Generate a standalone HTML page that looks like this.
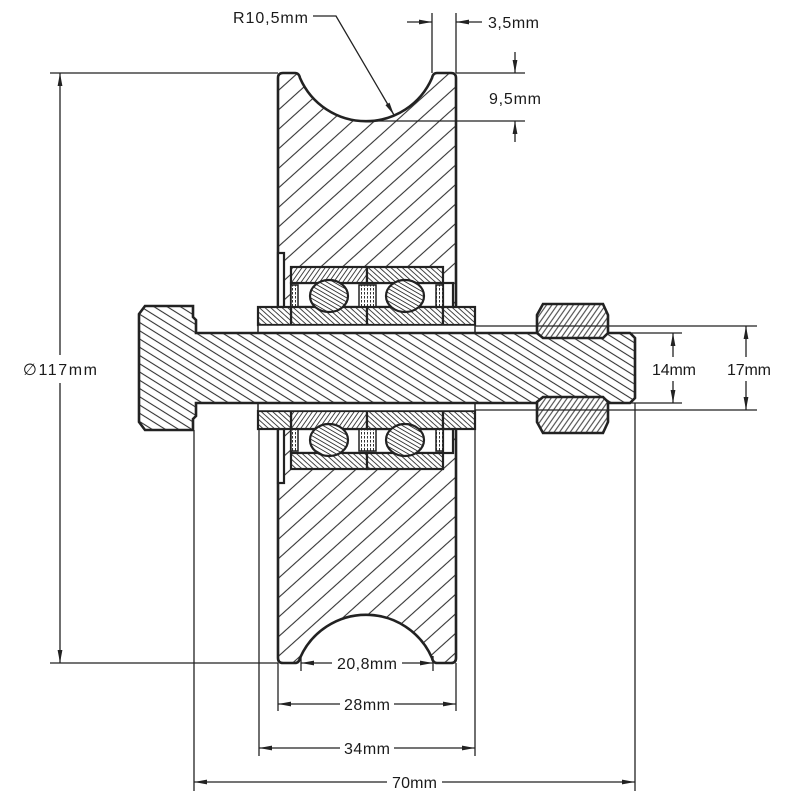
<!DOCTYPE html>
<html><head><meta charset="utf-8">
<style>
html,body{margin:0;padding:0;background:#fff}
svg{display:block}
text{font-family:"Liberation Sans","DejaVu Sans",sans-serif;font-size:16px;fill:#1a1a1a}
</style></head>
<body>
<svg width="800" height="800" viewBox="0 0 800 800" xmlns="http://www.w3.org/2000/svg">
<defs>
<pattern id="pb" width="14.5" height="14.5" patternUnits="userSpaceOnUse" patternTransform="rotate(-42)"><rect width="14.5" height="14.5" fill="#fff"/><line x1="0" y1="7" x2="14.5" y2="7" stroke="#333" stroke-width="1.1"/></pattern>
<pattern id="ps" width="7" height="7" patternUnits="userSpaceOnUse" patternTransform="rotate(32)"><rect width="7" height="7" fill="#fff"/><line x1="0" y1="3.5" x2="7" y2="3.5" stroke="#333" stroke-width="1.1"/></pattern>
<pattern id="p1" width="3.8" height="3.8" patternUnits="userSpaceOnUse" patternTransform="rotate(-55)"><rect width="3.8" height="3.8" fill="#fff"/><line x1="0" y1="1.9" x2="3.8" y2="1.9" stroke="#333" stroke-width="0.9"/></pattern>
<pattern id="p2" width="3.8" height="3.8" patternUnits="userSpaceOnUse" patternTransform="rotate(42)"><rect width="3.8" height="3.8" fill="#fff"/><line x1="0" y1="1.9" x2="3.8" y2="1.9" stroke="#333" stroke-width="0.9"/></pattern>
<pattern id="pball" width="3.6" height="3.6" patternUnits="userSpaceOnUse" patternTransform="rotate(30)"><rect width="3.6" height="3.6" fill="#fff"/><line x1="0" y1="1.8" x2="3.6" y2="1.8" stroke="#333" stroke-width="0.9"/></pattern>
<pattern id="pn" width="4.4" height="4.4" patternUnits="userSpaceOnUse" patternTransform="rotate(-55)"><rect width="4.4" height="4.4" fill="#fff"/><line x1="0" y1="2.2" x2="4.4" y2="2.2" stroke="#333" stroke-width="1"/></pattern>
<pattern id="pv" width="3" height="4" patternUnits="userSpaceOnUse"><rect width="3" height="4" fill="#fff"/><line x1="1.5" y1="0" x2="1.5" y2="2.5" stroke="#333" stroke-width="1"/></pattern>
<marker id="ar" viewBox="0 0 13 6" refX="13" refY="3" markerWidth="13" markerHeight="6" orient="auto-start-reverse" markerUnits="userSpaceOnUse"><path d="M0,0.6 L13,3 L0,5.4 z" fill="#222"/></marker>
</defs>

<!-- wheel body -->
<path d="M278,78 Q278,73 283,73 L295,73 Q299,73 300,78 A72,72 0 0,0 432,78 Q433,73 437,73 L451,73 Q456,73 456,78 L456,658 Q456,663 451,663 L437,663 Q433,663 432,658 A72,72 0 0,0 300,658 Q299,663 295,663 L283,663 Q278,663 278,658 Z" fill="url(#pb)" stroke="#222" stroke-width="2.6"/>

<g stroke="#222" stroke-width="2.2">
<!-- upper bearing assembly -->
<rect x="278" y="253" width="6" height="54" fill="#fff"/>
<rect x="291" y="283" width="152" height="24" fill="#fff"/>
<rect x="443" y="283" width="10" height="24" fill="#fff"/>
<rect x="291" y="267" width="76" height="16" fill="url(#p1)"/>
<rect x="367" y="267" width="76" height="16" fill="url(#p2)"/>
<rect x="291" y="285" width="7" height="22" fill="url(#pv)" stroke-width="1.5"/>
<rect x="359" y="285" width="17" height="22" fill="url(#pv)" stroke-width="1.5"/>
<rect x="436" y="285" width="7" height="22" fill="url(#pv)" stroke-width="1.5"/>
<rect x="291" y="307" width="76" height="18" fill="url(#p2)"/>
<rect x="367" y="307" width="76" height="18" fill="url(#p2)"/>
<ellipse cx="329" cy="296" rx="19" ry="16" fill="url(#pball)"/>
<ellipse cx="405" cy="296" rx="19" ry="16" fill="url(#pball)"/>
<rect x="258" y="307" width="33" height="18" fill="url(#p2)"/>
<rect x="443" y="307" width="32" height="18" fill="url(#p2)"/>
<rect x="258" y="325" width="217" height="8" fill="#fff" stroke-width="1.5"/>

<!-- lower bearing assembly -->
<rect x="278" y="429" width="6" height="54" fill="#fff"/>
<rect x="291" y="429" width="152" height="24" fill="#fff"/>
<rect x="443" y="429" width="10" height="24" fill="#fff"/>
<rect x="291" y="453" width="76" height="16" fill="url(#p2)"/>
<rect x="367" y="453" width="76" height="16" fill="url(#p2)"/>
<rect x="291" y="429" width="7" height="22" fill="url(#pv)" stroke-width="1.5"/>
<rect x="359" y="429" width="17" height="22" fill="url(#pv)" stroke-width="1.5"/>
<rect x="436" y="429" width="7" height="22" fill="url(#pv)" stroke-width="1.5"/>
<rect x="291" y="411" width="76" height="18" fill="url(#p1)"/>
<rect x="367" y="411" width="76" height="18" fill="url(#p2)"/>
<ellipse cx="329" cy="440" rx="19" ry="16" fill="url(#pball)"/>
<ellipse cx="405" cy="440" rx="19" ry="16" fill="url(#pball)"/>
<rect x="258" y="411" width="33" height="18" fill="url(#p2)"/>
<rect x="443" y="411" width="32" height="18" fill="url(#p2)"/>
<rect x="258" y="403" width="217" height="8" fill="#fff" stroke-width="1.5"/>
</g>

<!-- bolt -->
<path d="M145,306 L193,306 L193,317 L196,320 L196,333 L630,333 L635,338 L635,398 L630,403 L196,403 L196,416 L193,419 L193,430 L145,430 L139,422 L139,314 Z" fill="url(#ps)" stroke="#222" stroke-width="2.6"/>

<!-- nuts -->
<path d="M543,304 L603,304 L608,315 L608,333 L603,338 L543,338 L537,333 L537,315 Z" fill="url(#pn)" stroke="#222" stroke-width="2.6"/>
<path d="M543,397 L603,397 L608,402 L608,422 L603,433 L543,433 L537,422 L537,402 Z" fill="url(#pn)" stroke="#222" stroke-width="2.6"/>

<!-- extension lines -->
<g stroke="#222" stroke-width="1.3" fill="none">
<line x1="50" y1="73" x2="278" y2="73"/>
<line x1="50" y1="663" x2="278" y2="663"/>
<line x1="432" y1="13" x2="432" y2="73"/>
<line x1="456" y1="13" x2="456" y2="73"/>
<line x1="456" y1="73" x2="525" y2="73"/>
<line x1="370" y1="121" x2="525" y2="121"/>
<line x1="475" y1="326" x2="757" y2="326"/>
<line x1="475" y1="410" x2="757" y2="410"/>
<line x1="608" y1="333" x2="682" y2="333"/>
<line x1="608" y1="403" x2="682" y2="403"/>
<line x1="301" y1="656" x2="301" y2="671"/>
<line x1="433" y1="656" x2="433" y2="671"/>
<line x1="278" y1="663" x2="278" y2="711"/>
<line x1="456" y1="663" x2="456" y2="711"/>
<line x1="259" y1="429" x2="259" y2="756"/>
<line x1="475" y1="429" x2="475" y2="756"/>
<line x1="194" y1="430" x2="194" y2="791"/>
<line x1="635" y1="403" x2="635" y2="791"/>
</g>

<!-- dimension lines -->
<g stroke="#222" stroke-width="1.3" fill="none">
<line x1="60" y1="355" x2="60" y2="73" marker-end="url(#ar)"/>
<line x1="60" y1="383" x2="60" y2="663" marker-end="url(#ar)"/>
<polyline points="313,16 336,16 394,115" marker-end="url(#ar)"/>
<line x1="407" y1="22" x2="432" y2="22" marker-end="url(#ar)"/>
<line x1="482" y1="22" x2="456" y2="22" marker-end="url(#ar)"/>
<line x1="515" y1="52" x2="515" y2="73" marker-end="url(#ar)"/>
<line x1="515" y1="142" x2="515" y2="121" marker-end="url(#ar)"/>
<line x1="673" y1="357" x2="673" y2="333" marker-end="url(#ar)"/>
<line x1="673" y1="381" x2="673" y2="403" marker-end="url(#ar)"/>
<line x1="746" y1="357" x2="746" y2="326" marker-end="url(#ar)"/>
<line x1="746" y1="381" x2="746" y2="410" marker-end="url(#ar)"/>
<line x1="332" y1="663" x2="301" y2="663" marker-end="url(#ar)"/>
<line x1="402" y1="663" x2="433" y2="663" marker-end="url(#ar)"/>
<line x1="340" y1="704" x2="278" y2="704" marker-end="url(#ar)"/>
<line x1="394" y1="704" x2="456" y2="704" marker-end="url(#ar)"/>
<line x1="340" y1="748" x2="259" y2="748" marker-end="url(#ar)"/>
<line x1="394" y1="748" x2="475" y2="748" marker-end="url(#ar)"/>
<line x1="387" y1="782" x2="194" y2="782" marker-end="url(#ar)"/>
<line x1="442" y1="782" x2="635" y2="782" marker-end="url(#ar)"/>
</g>

<!-- labels -->
<text x="233" y="23" textLength="75" lengthAdjust="spacing">R10,5mm</text>
<text x="488" y="28" textLength="51" lengthAdjust="spacing">3,5mm</text>
<text x="489" y="104" textLength="52" lengthAdjust="spacing">9,5mm</text>
<text x="23" y="375" textLength="74" lengthAdjust="spacing">∅117mm</text>
<text x="652" y="375" textLength="44" lengthAdjust="spacing">14mm</text>
<text x="727" y="375" textLength="44" lengthAdjust="spacing">17mm</text>
<text x="337" y="669" textLength="60" lengthAdjust="spacing">20,8mm</text>
<text x="344" y="710" textLength="46" lengthAdjust="spacing">28mm</text>
<text x="344" y="754" textLength="46" lengthAdjust="spacing">34mm</text>
<text x="392" y="788" textLength="45" lengthAdjust="spacing">70mm</text>
</svg>
</body></html>
